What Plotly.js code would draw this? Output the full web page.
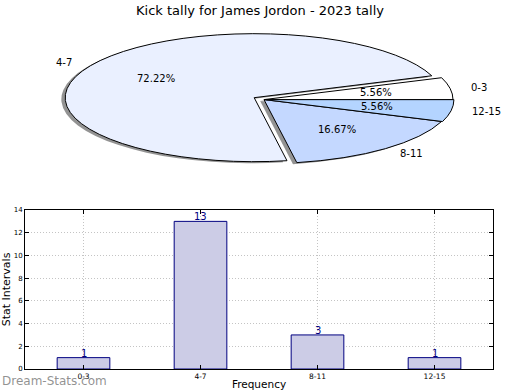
<!DOCTYPE html>
<html>
<head>
<meta charset="utf-8">
<script src="https://cdn.plot.ly/plotly-3.0.1.min.js"></script>
<style>
  html, body { margin: 0; padding: 0; background: #fff; }
  #chart { width: 520px; height: 390px; }
  .pielayer path { vector-effect: non-scaling-stroke; }
</style>
</head>
<body>
<div id="chart"></div>
<script>
// ---- data ----
const categories = ['0-3', '4-7', '8-11', '12-15'];
const counts = [1, 13, 3, 1];
const sliceColors = ['#FFFFFF', '#EAF0FF', '#C4D8FF', '#B4D4FF'];
const pullAmounts = [0, 0.06, 0, 0.005];
const yTickVals = [0, 2, 4, 6, 8, 10, 12, 14];
const titleText = 'Kick tally for James Jordon - 2023 tally';

// ---- geometry (pixels) ----
const W = 520, H = 390;
const M = {l: 25, r: 27, t: 0, b: 21};
const PW = W - M.l - M.r, PH = H - M.t - M.b;
const PIE_CX = 264, PIE_CY = 99.6, PIE_A = 189, PIE_B = 64;
const maxPull = Math.max.apply(null, pullAmounts);
const half = PIE_B * (1 + maxPull);
const toPX = x => (x - M.l) / PW;
const toPY = y => (PH + M.t - y) / PH;
const total = counts.reduce((a, b) => a + b, 0);
// first slice starts at 3 o'clock and runs counterclockwise
const pieRotation = 90 - 360 * counts[0] / total;

// stretch the (circular) pie into the reference's ellipse
const st = document.createElement('style');
st.textContent = '.pielayer{transform-origin:' + PIE_CX + 'px ' + PIE_CY + 'px;transform:scaleX(' + (PIE_A / PIE_B) + ');}';
document.head.appendChild(st);

const pieDomain = {
  x: [toPX(PIE_CX - half), toPX(PIE_CX + half)],
  y: [toPY(PIE_CY + half), toPY(PIE_CY - half)]
};
const sdx = -1.3 / PW, sdy = -1.5 / PH;

const shadow = {
  type: 'pie', labels: categories, values: counts, sort: false,
  direction: 'counterclockwise', rotation: pieRotation, pull: pullAmounts,
  marker: {colors: categories.map(() => 'rgba(40,40,40,0.5)'), line: {width: 0}},
  textinfo: 'none', hoverinfo: 'skip', showlegend: false,
  domain: {x: [pieDomain.x[0] + sdx, pieDomain.x[1] + sdx], y: [pieDomain.y[0] + sdy, pieDomain.y[1] + sdy]}
};
const pie = {
  type: 'pie', labels: categories, values: counts, sort: false,
  direction: 'counterclockwise', rotation: pieRotation, pull: pullAmounts,
  marker: {colors: sliceColors, line: {color: '#000000', width: 1}},
  textinfo: 'none', hoverinfo: 'label+percent', showlegend: false,
  domain: pieDomain
};
const bars = {
  type: 'bar', x: categories, y: counts, width: 0.45,
  marker: {color: '#CCCCE6', line: {color: '#000080', width: 1}},
  hoverinfo: 'x+y', showlegend: false, xaxis: 'x', yaxis: 'y'
};

// ---- annotations ----
const annotations = [];
let start = 0;
counts.forEach((v, i) => {
  const span = v / total * 360;
  const mid = (start + span / 2) * Math.PI / 180;
  start += span;
  const c = Math.cos(mid), s = Math.sin(mid);
  const lx = PIE_CX + (pullAmounts[i] + 1.1) * PIE_A * c;
  const ly = PIE_CY - (pullAmounts[i] + 1.1) * PIE_B * s;
  annotations.push({
    xref: 'paper', yref: 'paper', x: toPX(lx), y: toPY(ly),
    xanchor: c > 0 ? 'left' : 'right', yanchor: 'middle', showarrow: false,
    text: categories[i], font: {family: 'DejaVu Sans', size: 10, color: '#000'}
  });
  const px = PIE_CX + (pullAmounts[i] + 0.6) * PIE_A * c;
  const py = PIE_CY - (pullAmounts[i] + 0.6) * PIE_B * s;
  annotations.push({
    xref: 'paper', yref: 'paper', x: toPX(px), y: toPY(py),
    xanchor: 'center', yanchor: 'middle', showarrow: false,
    text: (v / total * 100).toFixed(2) + '%', font: {family: 'DejaVu Sans', size: 10, color: '#000'}
  });
  annotations.push({
    xref: 'x', yref: 'y', x: categories[i], y: v, xanchor: 'center', yanchor: 'bottom',
    yshift: -3, showarrow: false, text: String(v),
    font: {family: 'DejaVu Sans', size: 10, color: '#000080'}
  });
});
annotations.push({
  xref: 'paper', yref: 'paper', x: toPX(0), y: toPY(381), xanchor: 'left', yanchor: 'middle',
  showarrow: false, text: 'Dream-Stats.com',
  font: {family: 'DejaVu Sans', size: 12, color: 'rgba(110,110,110,0.75)'}
});

const layout = {
  width: W, height: H, margin: M, paper_bgcolor: '#fff', plot_bgcolor: '#fff',
  font: {family: 'DejaVu Sans', color: '#000'},
  showlegend: false,
  title: {text: titleText, font: {family: 'DejaVu Sans', size: 13, color: '#000'},
          x: 0.5, xref: 'container', xanchor: 'center', y: 1 - 10 / H, yref: 'container', yanchor: 'middle'},
  xaxis: {
    type: 'category', range: [-0.5, 3.5], domain: [0, 1], anchor: 'y',
    showline: true, linecolor: '#000', linewidth: 1, mirror: 'ticks',
    ticks: 'inside', ticklen: 4, tickcolor: '#000', tickfont: {size: 7.5},
    showgrid: true, gridcolor: '#c4c4c4', griddash: '1px,2px', gridwidth: 1,
    title: {text: 'Frequency', font: {size: 10.5}, standoff: 12}, automargin: false, fixedrange: true
  },
  yaxis: {
    range: [0, 14], tickvals: yTickVals, domain: [0, (PH + M.t - 210) / PH], anchor: 'x',
    showline: true, linecolor: '#000', linewidth: 1, mirror: 'ticks',
    ticks: 'inside', ticklen: 4, tickcolor: '#000', tickfont: {size: 7},
    showgrid: true, gridcolor: '#c4c4c4', griddash: '1px,2px', gridwidth: 1, zeroline: false,
    title: {text: 'Stat Intervals', font: {size: 11}, standoff: 3}, automargin: false, fixedrange: true
  },
  annotations: annotations,
  bargap: 0.55
};

Plotly.newPlot('chart', [shadow, pie, bars], layout, {displayModeBar: false, staticPlot: true});
</script>
</body>
</html>
